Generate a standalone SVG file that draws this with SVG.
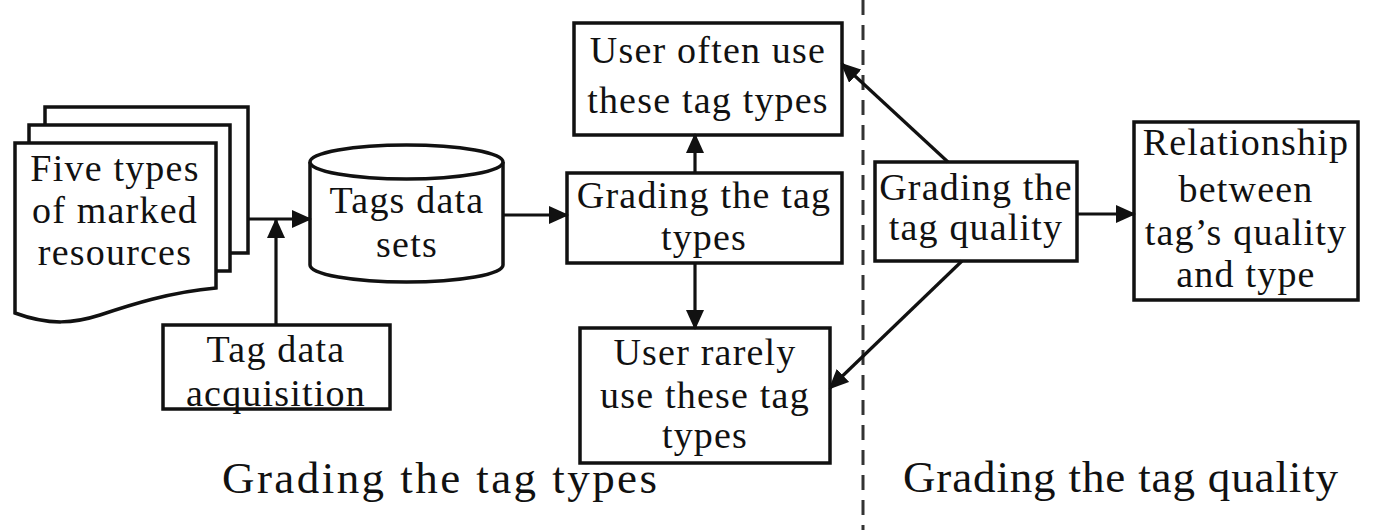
<svg xmlns="http://www.w3.org/2000/svg" width="1382" height="530" viewBox="0 0 1382 530">
<style>
.box{fill:#fff;stroke:#111;stroke-width:3.5}
.t{font-family:"Liberation Serif","Times New Roman",serif;font-size:38px;letter-spacing:1.2px;fill:#111;text-anchor:middle}
.big{font-family:"Liberation Serif","Times New Roman",serif;font-size:45px;fill:#111}
.c{fill:none;stroke:#111;stroke-width:3.2}
</style>
<defs>
<marker id="ah" markerUnits="userSpaceOnUse" markerWidth="20" markerHeight="18" refX="18" refY="9" orient="auto">
<path d="M0,0 L20,9 L0,18 Z" fill="#111"/>
</marker>
</defs>
<rect width="1382" height="530" fill="#fff"/>
<line x1="863" y1="0" x2="863" y2="530" stroke="#333" stroke-width="3" stroke-dasharray="15,10"/>
<g id="resources">
<rect class="box" x="45" y="107" width="203" height="146"/>
<rect class="box" x="29" y="125" width="201" height="146"/>
<path class="box" d="M15,143 H216 V288 C170,292 130,305 100,315 C75,323 50,326 15,313 Z"/>
<text class="t" x="115" y="181">Five types</text>
<text class="t" x="115" y="223">of marked</text>
<text class="t" x="115" y="265">resources</text>
</g>
<g id="acquisition">
<rect x="163" y="325" width="227" height="84" fill="#fff"/>
<text class="t" x="276" y="362">Tag data</text>
<text class="t" x="276" y="406">acquisition</text>
<rect x="163" y="325" width="227" height="84" fill="none" stroke="#111" stroke-width="3.5"/>
</g>
<g id="datasets">
<path class="box" d="M310,162 V265 A96.5,17 0 0 0 503,265 V162"/>
<ellipse class="box" cx="406.5" cy="162" rx="96.5" ry="17"/>
<text class="t" x="407" y="213">Tags data</text>
<text class="t" x="407" y="257">sets</text>
</g>
<g id="grading-types">
<rect class="box" x="567" y="173" width="275" height="90"/>
<text class="t" x="704" y="208">Grading the tag</text>
<text class="t" x="704" y="250">types</text>
</g>
<g id="often">
<rect class="box" x="574" y="23" width="268" height="112"/>
<text class="t" x="708" y="63">User often use</text>
<text class="t" x="708" y="113">these tag types</text>
</g>
<g id="rarely">
<rect class="box" x="580" y="328" width="250" height="135"/>
<text class="t" x="705" y="365">User rarely</text>
<text class="t" x="705" y="408">use these tag</text>
<text class="t" x="705" y="448">types</text>
</g>
<g id="grading-quality">
<rect class="box" x="875" y="162" width="202" height="99"/>
<text class="t" x="976" y="200">Grading the</text>
<text class="t" x="976" y="240">tag quality</text>
</g>
<g id="relationship">
<rect class="box" x="1134" y="122" width="224" height="178"/>
<text class="t" x="1246" y="155">Relationship</text>
<text class="t" x="1246" y="202">between</text>
<text class="t" x="1246" y="245">tag’s quality</text>
<text class="t" x="1246" y="287">and type</text>
</g>
<g id="connectors">
<line class="c" x1="248" y1="219" x2="310" y2="219" marker-end="url(#ah)"/>
<line class="c" x1="276" y1="325" x2="276" y2="220" marker-end="url(#ah)"/>
<line class="c" x1="503" y1="215" x2="567" y2="215" marker-end="url(#ah)"/>
<line class="c" x1="695" y1="173" x2="695" y2="135" marker-end="url(#ah)"/>
<line class="c" x1="695" y1="263" x2="695" y2="328" marker-end="url(#ah)"/>
<line class="c" x1="948" y1="162" x2="842" y2="64" marker-end="url(#ah)"/>
<line class="c" x1="962" y1="261" x2="830" y2="388" marker-end="url(#ah)"/>
<line class="c" x1="1077" y1="214" x2="1134" y2="214" marker-end="url(#ah)"/>
</g>
<g id="labels">
<text class="big" x="222" y="493" textLength="435">Grading the tag types</text>
<text class="big" x="903" y="492" textLength="435">Grading the tag quality</text>
</g>
</svg>
